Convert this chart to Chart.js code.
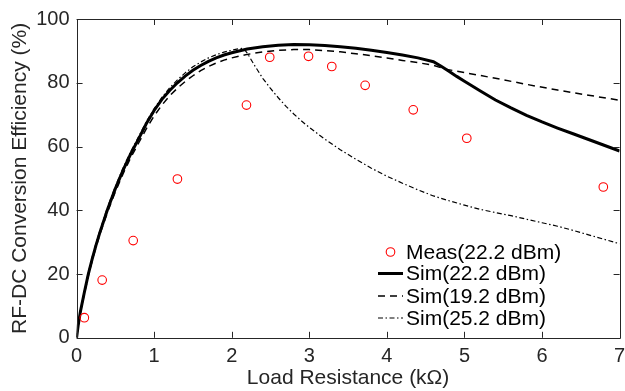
<!DOCTYPE html>
<html lang="en">
<head>
    <meta charset="UTF-8">
    <title>RF-DC Conversion Efficiency</title>
    <style>
        html, body { margin: 0; padding: 0; background: #fff; }
        #wrap { width: 625px; height: 391px; }
    </style>
</head>
<body>
    <div id="wrap"><canvas id="effChart" width="625" height="391"></canvas></div>

    <script src="https://cdn.jsdelivr.net/npm/chart.js"></script>
    <script>
// axis ticks
const xTicks = [0, 1, 2, 3, 4, 5, 6, 7];
const yTicks = [0, 20, 40, 60, 80, 100];

// measured points at 22.2 dBm
const measX = [0.1, 0.33, 0.73, 1.3, 2.19, 2.49, 2.99, 3.29, 3.72, 4.34, 5.03, 6.79];
const measY = [6.3, 18.1, 30.5, 49.8, 73.0, 88.0, 88.3, 85.1, 79.2, 71.5, 62.6, 47.3];

// simulation, 22.2 dBm
const sim22X = [0, 0.02, 0.05, 0.1, 0.15, 0.2, 0.25, 0.3, 0.4, 0.5, 0.6, 0.7, 0.8, 0.9, 1.0, 1.1, 1.2, 1.3, 1.4, 1.5, 1.6, 1.7, 1.8, 1.9, 2.0, 2.2, 2.4, 2.6, 2.8, 3.0, 3.2, 3.4, 3.6, 3.8, 4.0, 4.2, 4.4, 4.6, 4.7, 4.8, 4.9, 5.0, 5.2, 5.4, 5.6, 5.8, 6.0, 6.2, 6.4, 6.6, 6.8, 7.0];
const sim22Y = [0, 3.8, 8.3, 14.2, 19.8, 24.6, 29, 33, 40.3, 46.8, 52.6, 57.8, 62.4, 67.2, 71.3, 74.8, 77.6, 80, 82.1, 83.9, 85.4, 86.7, 87.8, 88.7, 89.4, 90.6, 91.3, 91.8, 92.0, 91.9, 91.7, 91.3, 90.8, 90.2, 89.5, 88.7, 87.8, 86.6, 85.2, 83.6, 82.0, 80.5, 77.5, 74.6, 72.1, 69.8, 67.7, 65.8, 64.0, 62.2, 60.4, 58.6];

// simulation, 19.2 dBm
const sim19X = [0, 0.02, 0.05, 0.1, 0.15, 0.2, 0.25, 0.3, 0.4, 0.5, 0.6, 0.7, 0.8, 0.9, 1.0, 1.1, 1.2, 1.3, 1.4, 1.5, 1.6, 1.7, 1.8, 1.9, 2.0, 2.2, 2.4, 2.6, 2.8, 3.0, 3.2, 3.4, 3.6, 3.8, 4.0, 4.2, 4.4, 4.6, 4.75, 5.0, 5.4, 5.8, 6.2, 6.6, 7.0];
const sim19Y = [0, 3.6, 8, 13.8, 19.3, 24.1, 28.4, 32.4, 39.5, 45.8, 51.5, 56.6, 61.1, 65.6, 69.6, 73, 75.9, 78.3, 80.4, 82.2, 83.8, 85.1, 86.2, 87.1, 87.8, 88.9, 89.7, 90.2, 90.4, 90.4, 90.1, 89.7, 89.1, 88.5, 87.8, 87.0, 86.3, 85.5, 84.3, 83.2, 81.4, 79.5, 77.7, 76.1, 74.5];

// simulation, 25.2 dBm
const sim25X = [0, 0.02, 0.05, 0.1, 0.15, 0.2, 0.25, 0.3, 0.4, 0.5, 0.6, 0.7, 0.8, 0.9, 1.0, 1.1, 1.2, 1.3, 1.4, 1.5, 1.6, 1.7, 1.8, 1.9, 2.0, 2.1, 2.15, 2.2, 2.3, 2.4, 2.5, 2.6, 2.7, 2.8, 2.9, 3.0, 3.2, 3.4, 3.6, 3.8, 4.0, 4.2, 4.4, 4.6, 4.8, 5.0, 5.2, 5.4, 5.6, 5.8, 6.0, 6.2, 6.4, 6.6, 6.8, 7.0];
const sim25Y = [0, 4, 8.6, 14.6, 20.3, 25.2, 29.6, 33.6, 41, 47.5, 53.3, 58.5, 63.1, 67.8, 71.9, 75.4, 78.4, 80.9, 83.1, 85, 86.5, 87.8, 88.8, 89.6, 90.2, 90.7, 90.8, 89.3, 85.2, 81.4, 78.2, 75.3, 72.6, 70.2, 68.0, 66.0, 62.3, 59.0, 56.0, 53.2, 50.7, 48.5, 46.4, 44.5, 43.0, 41.6, 40.3, 39.3, 38.3, 37.2, 36.1, 35.0, 33.7, 32.3, 30.9, 29.5];

const ink = '#262626';
const fontFam = '"Liberation Sans", Helvetica, Arial, sans-serif';

function toPoints(xs, ys) {
    return xs.map((x, i) => ({ x: x, y: ys[i] }));
}

// box around the plot with inward ticks on all four sides
const boxPlugin = {
    id: 'boxTicks',
    afterDatasetsDraw(chart) {
        const ctx = chart.ctx;
        const a = chart.chartArea;
        const sx = chart.scales.x, sy = chart.scales.y;
        const len = 6;
        ctx.save();
        ctx.strokeStyle = ink;
        ctx.lineWidth = 1;
        ctx.beginPath();
        ctx.rect(Math.round(a.left) + 0.5, Math.round(a.top) + 0.5,
                 Math.round(a.right - a.left), Math.round(a.bottom - a.top));
        xTicks.forEach(v => {
            const px = Math.round(sx.getPixelForValue(v)) + 0.5;
            ctx.moveTo(px, a.bottom); ctx.lineTo(px, a.bottom - len);
            ctx.moveTo(px, a.top); ctx.lineTo(px, a.top + len);
        });
        yTicks.forEach(v => {
            const py = Math.round(sy.getPixelForValue(v)) + 0.5;
            ctx.moveTo(a.left, py); ctx.lineTo(a.left + len, py);
            ctx.moveTo(a.right, py); ctx.lineTo(a.right - len, py);
        });
        ctx.stroke();
        ctx.restore();
    }
};

// legend inside the plot, lower right, no frame
const legendPlugin = {
    id: 'innerLegend',
    afterDraw(chart) {
        const ctx = chart.ctx;
        const x0 = 378, x1 = 403, tx = 406;
        const rows = [252, 273.5, 296, 318];
        ctx.save();
        ctx.font = '21px ' + fontFam;
        ctx.textBaseline = 'middle';
        chart.data.datasets.forEach((ds, i) => {
            const y = rows[i];
            if (ds.showLine === false) {
                ctx.beginPath();
                ctx.strokeStyle = ds.pointBorderColor;
                ctx.lineWidth = ds.pointBorderWidth;
                ctx.arc((x0 + x1) / 2, y, 4.3, 0, Math.PI * 2);
                ctx.stroke();
            } else {
                ctx.beginPath();
                ctx.strokeStyle = ds.borderColor;
                ctx.lineWidth = ds.borderWidth;
                ctx.setLineDash(ds.borderDash || []);
                ctx.moveTo(x0, y); ctx.lineTo(x1, y);
                ctx.stroke();
                ctx.setLineDash([]);
            }
            ctx.fillStyle = '#000';
            ctx.fillText(ds.label, tx, y + 1);
        });
        ctx.restore();
    }
};

new Chart(document.getElementById('effChart'), {
    type: 'scatter',
    data: {
        datasets: [
            {
                label: 'Meas(22.2 dBm)',
                data: toPoints(measX, measY),
                showLine: false,
                pointStyle: 'circle',
                pointRadius: 4.3,
                pointBackgroundColor: 'rgba(0,0,0,0)',
                pointBorderColor: '#ff0000',
                pointBorderWidth: 1.1
            },
            {
                label: 'Sim(22.2 dBm)',
                data: toPoints(sim22X, sim22Y),
                showLine: true,
                borderColor: '#000',
                borderWidth: 3,
                pointRadius: 0,
                tension: 0
            },
            {
                label: 'Sim(19.2 dBm)',
                data: toPoints(sim19X, sim19Y),
                showLine: true,
                borderColor: '#000',
                borderWidth: 1.5,
                borderDash: [7, 5],
                pointRadius: 0,
                tension: 0
            },
            {
                label: 'Sim(25.2 dBm)',
                data: toPoints(sim25X, sim25Y),
                showLine: true,
                borderColor: '#000',
                borderWidth: 1.2,
                borderDash: [5, 2.5, 1.5, 2.5],
                pointRadius: 0,
                tension: 0
            }
        ]
    },
    options: {
        responsive: false,
        animation: false,
        layout: { padding: { top: 9, left: 2, right: 5, bottom: 0 } },
        plugins: {
            legend: { display: false },
            tooltip: { enabled: false }
        },
        scales: {
            x: {
                type: 'linear',
                min: 0, max: 7,
                afterBuildTicks: s => { s.ticks = xTicks.map(v => ({ value: v })); },
                afterFit: s => { s.paddingRight = 0; s.paddingLeft = 0; },
                grid: { display: false, drawTicks: false },
                border: { display: false },
                ticks: { color: ink, font: { size: 20, family: fontFam }, padding: 7, maxRotation: 0 },
                title: { display: true, text: 'Load Resistance (kΩ)', color: ink,
                         font: { size: 21, family: fontFam }, padding: { top: -10, bottom: 0 } }
            },
            y: {
                type: 'linear',
                min: 0, max: 100,
                afterBuildTicks: s => { s.ticks = yTicks.map(v => ({ value: v })); },
                grid: { display: false, drawTicks: false },
                border: { display: false },
                ticks: { color: ink, font: { size: 20, family: fontFam }, padding: 7 },
                title: { display: true, text: 'RF-DC Conversion Efficiency (%)', color: ink,
                         font: { size: 21, family: fontFam }, padding: { top: 6, bottom: -4 } }
            }
        }
    },
    plugins: [boxPlugin, legendPlugin]
});
    </script>
</body>
</html>
